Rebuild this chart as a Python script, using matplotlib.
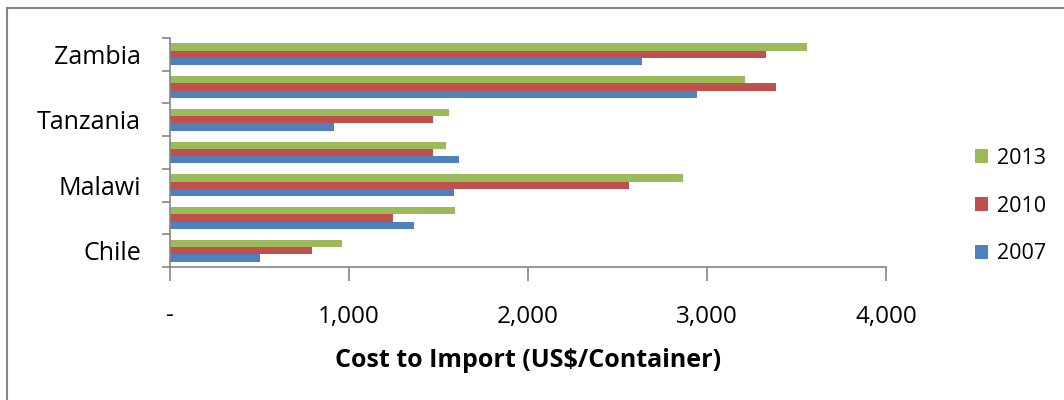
import numpy as np
import matplotlib
matplotlib.use('Agg')
import matplotlib.pyplot as plt
from matplotlib.lines import Line2D

plt.rcParams['font.family'] = ['Open Sans', 'DejaVu Sans']

# data (bottom to top)
countries = ['Chile', '', 'Malawi', '', 'Tanzania', '', 'Zambia']
cost_2007 = [504, 1365, 1585, 1613, 914, 2943, 2638]
cost_2010 = [792, 1246, 2565, 1472, 1472, 3387, 3332]
cost_2013 = [960, 1592, 2868, 1542, 1561, 3213, 3556]
years = ['2007', '2010', '2013']
colors = ['#4F81BD', '#C0504D', '#9BBB59']
xticks = [0, 1000, 2000, 3000, 4000]
xtick_labels = ['-', '1,000', '2,000', '3,000', '4,000']

W, H = 1064, 400
fig = plt.figure(figsize=(W/100, H/100), dpi=100)
ax = fig.add_axes([170/W, 1-267/H, (886-170)/W, (267-38)/H])

# frame: only top and left edges show in the reference
fig.add_artist(Line2D([7/W, 7/W], [0, 1-8/H], transform=fig.transFigure,
                      color='#868686', linewidth=1.5))
fig.add_artist(Line2D([7/W, 1], [1-8/H, 1-8/H], transform=fig.transFigure,
                      color='#868686', linewidth=1.5))

y = np.arange(len(countries))
h = 0.223
series = [cost_2007, cost_2010, cost_2013]
bars = []
for i, (vals, c) in enumerate(zip(series, colors)):
    b = ax.barh(y + (i - 1)*h, vals, height=h, color=c, label=years[i])
    bars.append(b)

ax.set_xlim(0, 4000)
ax.set_ylim(-0.5, len(countries) - 0.5)
ax.set_xticks(xticks)
ax.set_xticklabels(xtick_labels, fontsize=17.5)
ax.set_yticks(y)
ax.set_yticklabels(countries, fontsize=18)
ax.tick_params(axis='y', length=0, pad=21)
ax.set_yticks(np.arange(-0.5, len(countries)), minor=True)
ax.tick_params(axis='y', which='minor', length=6, color='#868686', width=1.2)
ax.tick_params(axis='x', length=10, color='#868686', width=1.2, pad=17)

for s in ['top', 'right']:
    ax.spines[s].set_visible(False)
for s in ['left', 'bottom']:
    ax.spines[s].set_color('#868686')
    ax.spines[s].set_linewidth(1.2)

ax.set_xlabel('Cost to Import (US$/Container)', fontsize=18, fontweight='bold', labelpad=14)

leg = fig.legend(bars[::-1], years[::-1], loc='center left',
                 bbox_to_anchor=(964/W, 1-206/H),
                 frameon=False, fontsize=15.5, handlelength=0.6, handleheight=0.6,
                 handletextpad=0.45, labelspacing=1.25, borderpad=0)

fig.savefig('out.png', dpi=100)
